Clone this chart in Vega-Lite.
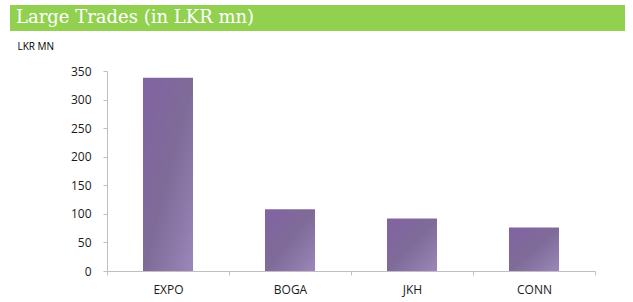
{
  "$schema": "https://vega.github.io/schema/vega-lite/v6.json",
  "padding": {"left": 10, "top": 5, "right": 5, "bottom": 5},
  "background": "white",
  "bounds": "flush",
  "spacing": 40,
  "config": {
    "view": {"stroke": null},
    "axis": {
      "grid": false,
      "domainColor": "#bfbfbf",
      "tickColor": "#bfbfbf",
      "tickSize": 4,
      "labelFont": "Open Sans",
      "labelFontSize": 12,
      "labelColor": "#1a1a1a"
    }
  },
  "vconcat": [
    {
      "width": 615,
      "height": 26,
      "view": {"fill": "#92d050", "stroke": null},
      "data": {"values": [{"title": "Large Trades (in LKR mn)"}]},
      "mark": {
        "type": "text",
        "font": "DejaVu Serif",
        "fontSize": 18,
        "color": "white",
        "align": "left",
        "baseline": "alphabetic",
        "dx": 6,
        "dy": 5
      },
      "encoding": {
        "text": {"field": "title"},
        "x": {"datum": 0, "type": "quantitative", "scale": {"domain": [0, 1]}, "axis": null}
      }
    },
    {
      "bounds": "flush",
      "spacing": 96,
      "hconcat": [
        {
          "width": 1,
          "height": 200,
          "data": {"values": []},
          "mark": "point",
          "encoding": {}
        },
        {
          "width": 488,
          "height": 200,
          "data": {
            "values": [
              {"stock": "EXPO", "value": 338},
              {"stock": "BOGA", "value": 108},
              {"stock": "JKH", "value": 92},
              {"stock": "CONN", "value": 76}
            ]
          },
          "mark": {
            "type": "bar",
            "width": {"band": 0.41},
            "color": {
              "gradient": "linear",
              "x1": 0, "y1": 0, "x2": 1, "y2": 1,
              "stops": [
                {"offset": 0, "color": "#8163a3"},
                {"offset": 0.5, "color": "#7f6b98"},
                {"offset": 1, "color": "#9b87b9"}
              ]
            }
          },
          "encoding": {
            "x": {
              "field": "stock",
              "type": "nominal",
              "sort": null,
              "scale": {"paddingInner": 0, "paddingOuter": 0},
              "axis": {
                "title": null,
                "labelAngle": 0,
                "tickBand": "extent",
                "labelPadding": 9
              }
            },
            "y": {
              "field": "value",
              "type": "quantitative",
              "scale": {"domain": [0, 350]},
              "axis": {
                "values": [0, 50, 100, 150, 200, 250, 300, 350],
                "title": "LKR MN",
                "titleFont": "Open Sans",
                "titleFontSize": 10,
                "titleFontWeight": "normal",
                "titleColor": "#000000",
                "titleAngle": 0,
                "titleAlign": "left",
                "titleBaseline": "alphabetic",
                "titleX": -90,
                "titleY": -22,
                "labelPadding": 12
              }
            }
          }
        }
      ]
    }
  ]
}
